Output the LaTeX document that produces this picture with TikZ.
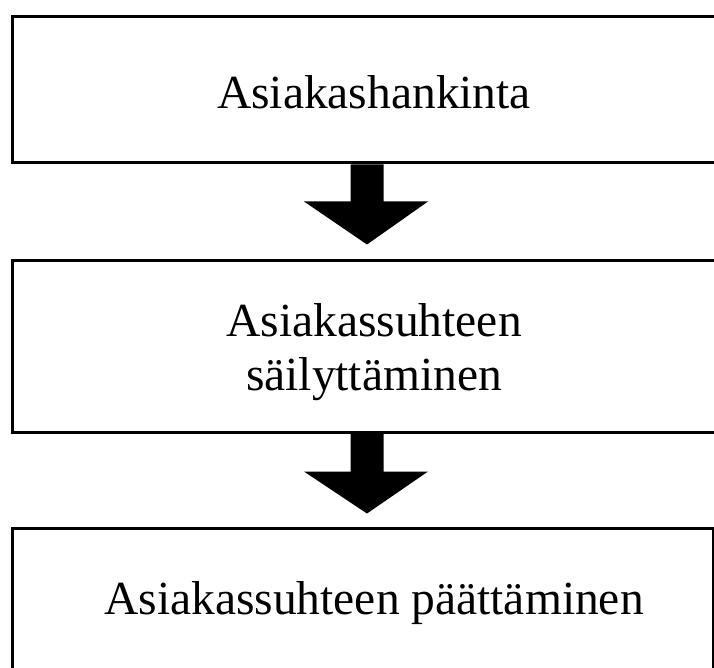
\documentclass[tikz,border=0pt]{standalone}
\usepackage{fontspec}
\setmainfont{Liberation Serif}
\begin{document}
\begin{tikzpicture}[x=1pt,y=-1pt,
  boxstyle/.style={draw=black,line width=3pt,rectangle,inner sep=0pt},
  labelstyle/.style={font=\fontsize{47.5}{54}\selectfont,align=center,inner sep=0pt},
  blockarrow/.style={fill=black,draw=none}]
\useasboundingbox (0,0) rectangle (714,668);
\clip (0,0) rectangle (714,668);
\node[boxstyle,minimum width=724pt,minimum height=146pt] (b1) at (374,90) {};
\node[boxstyle,minimum width=724pt,minimum height=172pt] (b2) at (374,346) {};
\node[boxstyle,minimum width=701pt,minimum height=160pt] (b3) at (362.5,608) {};
\node[labelstyle] (t1) at (374,92) {Asiakashankinta};
\node[labelstyle] (t2) at (374,352) {Asiakassuhteen\\säilyttäminen};
\node[labelstyle] (t3) at (374,603) {Asiakassuhteen päättäminen};
% block arrows
\coordinate (a1s) at (367,0 |- b1.south);
\coordinate (a1e) at (367,0 |- b2.north);
\fill[blockarrow] ([xshift=-16.5pt]a1s) -- ([xshift=-16.5pt,yshift=-37pt]a1s) -- ([xshift=-63pt,yshift=-37pt]a1s)
  -- ([yshift=14pt]a1e) -- ([xshift=61pt,yshift=-37pt]a1s) -- ([xshift=16.5pt,yshift=-37pt]a1s) -- ([xshift=16.5pt]a1s) -- cycle;
\coordinate (a2s) at (367,0 |- b2.south);
\coordinate (a2e) at (367,0 |- b3.north);
\fill[blockarrow] ([xshift=-16.5pt]a2s) -- ([xshift=-16.5pt,yshift=-38pt]a2s) -- ([xshift=-63pt,yshift=-38pt]a2s)
  -- ([yshift=13pt]a2e) -- ([xshift=61pt,yshift=-38pt]a2s) -- ([xshift=16.5pt,yshift=-38pt]a2s) -- ([xshift=16.5pt]a2s) -- cycle;
\end{tikzpicture}
\end{document}
